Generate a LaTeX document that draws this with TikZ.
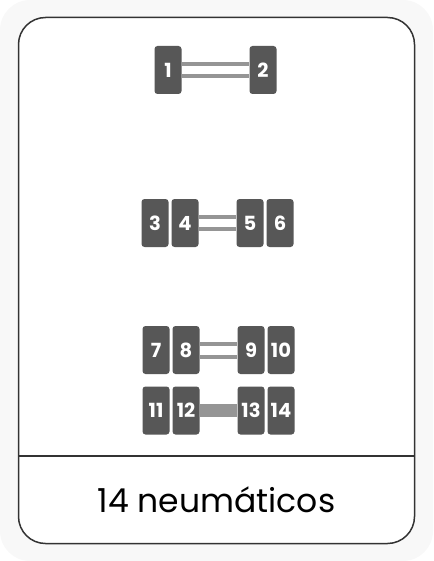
\documentclass[tikz,border=0pt]{standalone}
\usepackage{fontspec}
\setmainfont{Poppins}
\definecolor{tyregray}{HTML}{575757}
\definecolor{axlegray}{HTML}{959595}
\definecolor{cardline}{HTML}{333333}
\definecolor{backgray}{HTML}{F8F8F8}
\begin{document}
\begin{tikzpicture}[x=1pt, y=-1pt,
		tyre/.style={fill=tyregray, rounded corners=3pt, minimum width=27pt, minimum height=48pt, inner sep=0pt, text=white, font=\fontsize{19.5}{19.5}\selectfont\bfseries},
		axle/.style={draw=axlegray, line width=4pt},
		thickaxle/.style={draw=axlegray, line width=13pt}]
		\useasboundingbox (0,0) rectangle (433,561);
		\fill[backgray, rounded corners=30pt] (0,0) rectangle (433,561);

		% card
		\draw[cardline, line width=1.5pt, fill=white, rounded corners=27pt] (18.5,17.5) rectangle (414.5,543.5);
		\draw[cardline, line width=1.2pt] (18.5,456) -- (414.5,456);
		\node (label) at (216.5,500) {\fontsize{33}{33}\selectfont 14 neumáticos};

		% first axle
		\node[tyre] (t1) at (168,70) {1};
		\node[tyre] (t2) at (263,70) {2};
		\draw[axle] ([yshift=6.2pt]t1.east) -- ([yshift=6.2pt]t2.west);
		\draw[axle] ([yshift=-6.2pt]t1.east) -- ([yshift=-6.2pt]t2.west);

		% second axle
		\node[tyre] (t3) at (155,223) {3};
		\node[tyre] (t4) at (185,223) {4};
		\node[tyre] (t5) at (250,223) {5};
		\node[tyre] (t6) at (280,223) {6};
		\draw[axle] ([yshift=6pt]t4.east) -- ([yshift=6pt]t5.west);
		\draw[axle] ([yshift=-6pt]t4.east) -- ([yshift=-6pt]t5.west);

		% third axle
		\node[tyre] (t7) at (156,350) {7};
		\node[tyre] (t8) at (186,350) {8};
		\node[tyre] (t9) at (251,350) {9};
		\node[tyre] (t10) at (281,350) {10};
		\draw[axle] ([yshift=6.5pt]t8.east) -- ([yshift=6.5pt]t9.west);
		\draw[axle] ([yshift=-6.5pt]t8.east) -- ([yshift=-6.5pt]t9.west);

		% fourth axle
		\node[tyre] (t11) at (156,410.5) {11};
		\node[tyre] (t12) at (186,410.5) {12};
		\node[tyre] (t13) at (251,410.5) {13};
		\node[tyre] (t14) at (281,410.5) {14};
		\draw[thickaxle] (t12.east) -- (t13.west);
	\end{tikzpicture}
\end{document}
